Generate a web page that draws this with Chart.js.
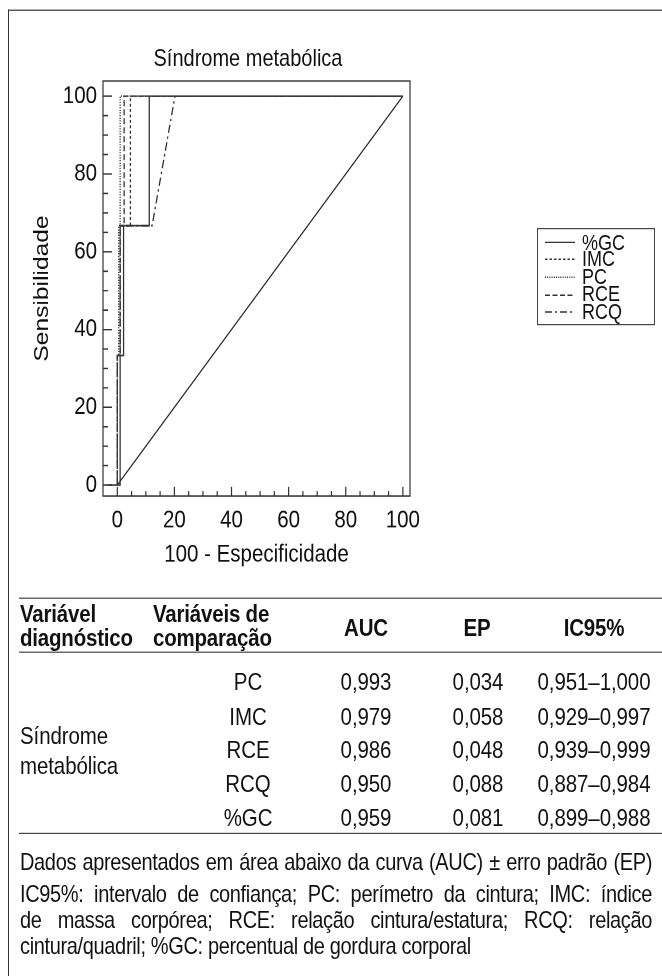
<!DOCTYPE html>
<html>
<head>
<meta charset="utf-8">
<script src="https://cdn.jsdelivr.net/npm/chart.js@4.4.1/dist/chart.umd.min.js"></script>
<style>
  body { margin:0; background:#fff; font-family:'Liberation Sans', Arial, sans-serif; color:#111; }
  #outer { position:relative; width:662px; height:976px; overflow:hidden; }
  /* the reference is stretched vertically; lay out at 1/1.2 height and stretch */
  #page { position:absolute; left:0; top:0; width:662px; height:813.3px; transform:scaleY(1.2); transform-origin:0 0; }
  #frame { position:absolute; left:8px; top:8.3px; width:700px; height:1000px; border-left:1px solid #333; border-top:1px solid #333; }
  #chartBox { position:absolute; left:0; top:0; width:662px; height:485px; }
  #title { position:absolute; left:0; width:496px; top:36.8px; text-align:center; font-size:20px; line-height:23px; }
  #legend { position:absolute; left:537px; top:190px; width:118px; height:81px; border:1px solid #444; padding-top:3.5px; box-sizing:border-box; }
  .leg { height:14.6px; display:flex; align-items:center; font-size:18px; line-height:14.6px; }
  .leg svg { margin-left:7px; margin-right:7px; }
  .t { position:absolute; white-space:nowrap; line-height:20px; }
  .hline { position:absolute; left:19px; width:660px; height:0; border-top:1.3px solid #444; }
  .b { font-weight:bold; font-size:20.5px; letter-spacing:-0.2px; }
  .r { font-size:20.5px; letter-spacing:-0.1px; }
  .note { position:absolute; left:20px; width:632px; height:20px; font-size:20px; line-height:20px; letter-spacing:-0.35px; white-space:nowrap; text-align:justify; text-align-last:justify; }
  .note.last { text-align-last:left; }
</style>
</head>
<body>
<div id="outer">
<div id="page">
  <div id="frame"></div>
  <div id="chartBox"><canvas id="roc" width="662" height="485"></canvas></div>
  <div id="title">Síndrome metabólica</div>
  <div id="legend"></div>
  <div id="table"></div>
</div>
</div>
<script>
// ─── DATA ─────────────────────────────────────────────────────
const seriesNames = ['%GC', 'IMC', 'PC', 'RCE', 'RCQ'];
const xGC  = [-3, 1, 1, 2.2, 2.2, 11.2, 11.2, 100];
const yGC  = [0, 0, 33.3, 33.3, 66.7, 66.7, 100, 100];
const xIMC = [0, 0, 1, 1, 4.6, 4.6, 100];
const yIMC = [0, 33.3, 33.3, 66.7, 66.7, 100, 100];
const xPC  = [0, 0, 0.5, 0.5, 1, 1, 100];
const yPC  = [0, 33.3, 33.3, 66.7, 66.7, 100, 100];
const xRCE = [0, 0, 1, 1, 2.4, 2.4, 100];
const yRCE = [0, 33.3, 33.3, 66.7, 66.7, 100, 100];
const xRCQ = [0, 0, 1, 1, 12.2, 20.2, 100];
const yRCQ = [0, 33.3, 33.3, 66.7, 66.7, 100, 100];
const xRef = [0, 100];
const yRef = [0, 100];
const tickValues = [0, 20, 40, 60, 80, 100];

const compVars = ['PC', 'IMC', 'RCE', 'RCQ', '%GC'];
const aucVals  = ['0,993', '0,979', '0,986', '0,950', '0,959'];
const epVals   = ['0,034', '0,058', '0,048', '0,088', '0,081'];
const icVals   = ['0,951–1,000', '0,929–0,997', '0,939–0,999', '0,887–0,984', '0,899–0,988'];

// ─── CHART ────────────────────────────────────────────────────
const lineColor = '#333';
const dashes = { '%GC': [], 'IMC': [2.5, 2], 'PC': [1, 1.2], 'RCE': [5, 2.5], 'RCQ': [7, 3, 2, 3] };
const pts = (xs, ys) => xs.map((x, i) => ({ x, y: ys[i] }));
const curves = [[xGC, yGC], [xIMC, yIMC], [xPC, yPC], [xRCE, yRCE], [xRCQ, yRCQ]];

const datasets = curves.map((c, i) => ({
  label: seriesNames[i], data: pts(c[0], c[1]),
  borderColor: lineColor, borderWidth: 1.3, borderDash: dashes[seriesNames[i]],
  showLine: true, pointRadius: 0, fill: false, tension: 0
}));
datasets.push({ label: 'ref', data: pts(xRef, yRef), borderColor: '#222', borderWidth: 1.1, showLine: true, pointRadius: 0 });

const axisFont = { family: 'Liberation Sans', size: 20.5 };

// frame + inward ticks
const framePlugin = {
  id: 'frame',
  afterDraw(chart) {
    const { ctx, chartArea: a, scales: { x, y } } = chart;
    ctx.save();
    ctx.strokeStyle = '#333'; ctx.lineWidth = 1.2; ctx.setLineDash([]);
    ctx.strokeRect(a.left, a.top, a.right - a.left, a.bottom - a.top);
    ctx.beginPath();
    for (let v = 0; v <= 100; v += 5) {
      const major = v % 20 === 0;
      const px = x.getPixelForValue(v);
      ctx.moveTo(px, a.bottom); ctx.lineTo(px, a.bottom - (major ? 7.5 : 4.2));
      const py = y.getPixelForValue(v);
      ctx.moveTo(a.left, py); ctx.lineTo(a.left + (major ? 9 : 5), py);
    }
    ctx.stroke();
    ctx.restore();
  }
};

const chart = new Chart(document.getElementById('roc'), {
  type: 'scatter',
  data: { datasets },
  options: {
    responsive: false, animation: false, devicePixelRatio: 2,
    layout: { padding: { left: 24, top: 67.5, right: 252, bottom: 6.5 } },
    plugins: { legend: { display: false }, tooltip: { enabled: false } },
    scales: {
      x: {
        type: 'linear', min: -5, max: 102.5,
        grid: { display: false, drawTicks: false, tickLength: 0 }, border: { display: false },
        afterBuildTicks: s => { s.ticks = tickValues.map(v => ({ value: v })); },
        afterFit: s => { s.height = 65.2; },
        ticks: { autoSkip: false, maxRotation: 0, padding: 8, color: '#111', font: axisFont },
        title: { display: true, text: '100 - Especificidade', color: '#111', font: axisFont, padding: { top: 4, bottom: 4 } }
      },
      y: {
        type: 'linear', min: -2.8, max: 103.9,
        grid: { display: false, drawTicks: false, tickLength: 0 }, border: { display: false },
        afterBuildTicks: s => { s.ticks = tickValues.map(v => ({ value: v })); },
        afterFit: s => { s.width = 103 - 24; },
        ticks: { autoSkip: false, padding: 6, color: '#111', font: axisFont },
        title: { display: true, text: 'Sensibilidade', color: '#111', font: axisFont, padding: { top: 6, bottom: 4 } }
      }
    }
  },
  plugins: [framePlugin]
});

// ─── LEGEND (html, from datasets) ─────────────────────────────
const legend = document.getElementById('legend');
chart.data.datasets.slice(0, seriesNames.length).forEach(ds => {
  const row = document.createElement('div');
  row.className = 'leg';
  row.innerHTML = `<svg width="30" height="6"><line x1="0" y1="3" x2="30" y2="3" stroke="${ds.borderColor}" stroke-width="1.2" stroke-dasharray="${ds.borderDash.join(' ') || 'none'}"/></svg>${ds.label}`;
  legend.appendChild(row);
});

// ─── TABLE ────────────────────────────────────────────────────
const table = document.getElementById('table');
function put(txt, cls, x, yc, align) {
  const el = document.createElement('div');
  el.className = 't ' + cls;
  el.textContent = txt;
  el.style.top = (yc - 10) + 'px';
  if (align === 'c') { el.style.left = (x - 100) + 'px'; el.style.width = '200px'; el.style.textAlign = 'center'; }
  else el.style.left = x + 'px';
  table.appendChild(el);
}
function hline(y) {
  const el = document.createElement('div');
  el.className = 'hline'; el.style.top = y + 'px';
  table.appendChild(el);
}
hline(498.3); hline(543.3); hline(694.2);
put('Variável', 'b', 20, 510.8); put('diagnóstico', 'b', 20, 530.8);
put('Variáveis de', 'b', 153, 510.8); put('comparação', 'b', 153, 530.8);
put('AUC', 'b', 366, 522.5, 'c'); put('EP', 'b', 477, 522.5, 'c'); put('IC95%', 'b', 594, 522.5, 'c');
put('Síndrome', 'r', 20, 613.3); put('metabólica', 'r', 20, 638.3);
const rowY = [568.3, 596.7, 625, 652.5, 680.8];
compVars.forEach((v, i) => {
  put(v, 'r', 248, rowY[i], 'c');
  put(aucVals[i], 'r', 366, rowY[i], 'c');
  put(epVals[i], 'r', 478, rowY[i], 'c');
  put(icVals[i], 'r', 594, rowY[i], 'c');
});
const noteLines = [
  'Dados apresentados em área abaixo da curva (AUC) ± erro padrão (EP)',
  'IC95%: intervalo de confiança; PC: perímetro da cintura; IMC: índice',
  'de massa corpórea; RCE: relação cintura/estatura; RCQ: relação',
  'cintura/quadril; %GC: percentual de gordura corporal'
];
const noteY = [718.3, 744.5, 766, 787.5];
noteLines.forEach((txt, i) => {
  const el = document.createElement('div');
  el.className = 'note' + (i === noteLines.length - 1 ? ' last' : '');
  el.style.top = (noteY[i] - 10) + 'px';
  el.textContent = txt;
  table.appendChild(el);
});
</script>
</body>
</html>
